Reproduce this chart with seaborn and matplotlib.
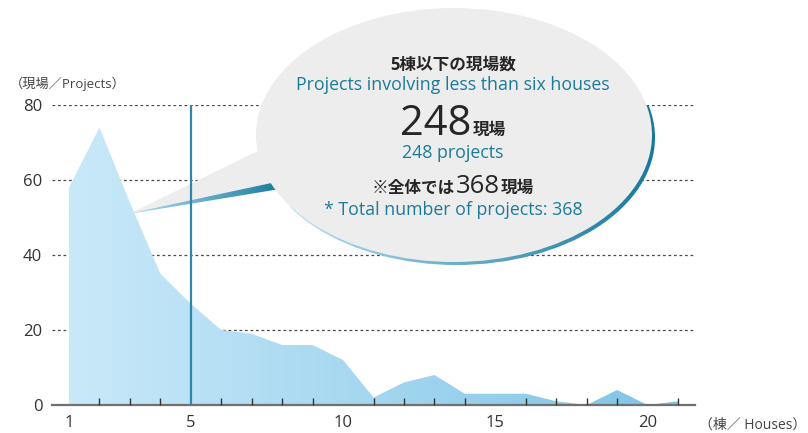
import numpy as np
import matplotlib
matplotlib.use("Agg")
import matplotlib.pyplot as plt
import seaborn as sns
from matplotlib.patches import Ellipse, Polygon
from matplotlib.colors import LinearSegmentedColormap

# ---- data ----
houses = list(range(1, 22))
projects = [58, 74, 54, 35, 27, 20, 19, 16, 16, 12, 2, 6, 8, 3, 3, 3, 1, 0, 4, 0, 1]
x_tick_values = [1, 5, 10, 15, 20]
y_tick_values = [0, 20, 40, 60, 80]
threshold_houses = 5

y_label = "（現場／Projects）"
x_label = "（棟／ Houses）"
callout_title_jp = "5棟以下の現場数"
callout_title_en = "Projects involving less than six houses"
count_value = "248"
count_unit = "現場"
count_en = "248 projects"
total_prefix = "※全体では"
total_value = "368"
total_unit = "現場"
total_en = "* Total number of projects: 368"

# ---- style ----
sns.set_theme(style="white")
plt.rcParams["font.family"] = ["Open Sans", "Noto Sans CJK JP", "DejaVu Sans"]

DARK = "#262626"
TEAL = "#1a7b9b"
GRID = "#4a4a4a"

W, H = 808, 433
fig = plt.figure(figsize=(W / 100, H / 100), dpi=100)
fig.patch.set_facecolor("white")

ax = fig.add_axes([52 / W, 28 / H, 643 / W, 300 / H])
ov = fig.add_axes([0, 0, 1, 1])
ov.set_xlim(0, W)
ov.set_ylim(H, 0)
ov.axis("off")
ov.set_zorder(-5)
PX = ov.transData  # pixel coordinates (origin top-left)

XMIN, XMAX = 1 - 17 / 30.45, 1 + 626 / 30.45

# gridlines
for yv in y_tick_values[1:]:
    ax.axhline(yv, color=GRID, lw=0.9, ls=(0, (2.2, 2.2)), zorder=0.6)

# area with gradient
sns.lineplot(x=houses, y=projects, ax=ax, color="#9fd3ee", lw=0, zorder=1)
poly = ax.fill_between(houses, projects, 0, facecolor="none", edgecolor="none", zorder=1)
area_cmap = LinearSegmentedColormap.from_list("area", ["#c9e9f9", "#7fc4e6"])
grad = np.linspace(0, 1, 256).reshape(1, -1)
im = ax.imshow(grad, extent=[houses[0], houses[-1], 0, max(projects) + 1],
               aspect="auto", cmap=area_cmap, zorder=1, origin="lower")
im.set_clip_path(poly.get_paths()[0], transform=ax.transData)

# threshold line
ax.axvline(threshold_houses, color="#2f88aa", lw=1.6, zorder=1.9)

# ---- callout ----
def grad_image(x0, x1, y0, y1, c0, c1, clip, z):
    cm = LinearSegmentedColormap.from_list("g", [c0, c1])
    g = ax.imshow(grad, extent=[x0, x1, y1, y0], aspect="auto", cmap=cm,
                  transform=PX, zorder=z, origin="upper")
    g.set_clip_box(None)
    g.set_clip_path(clip)
    return g

shadow = Ellipse((456.5, 137.5), 397, 255, transform=PX, facecolor="none", edgecolor="none")
ax.add_patch(shadow)
shadow.set_clip_on(False)
grad_image(290, 655, 0, 270, "#b0ddf2", "#17789c", shadow, 1.5)

tail_shadow = Polygon([(131, 213), (276, 181), (280, 189), (131, 213.6)], closed=True,
                      transform=PX, facecolor="none", edgecolor="none")
ax.add_patch(tail_shadow)
tail_shadow.set_clip_on(False)
grad_image(131, 280, 175, 215, "#b0ddf2", "#1a7b9e", tail_shadow, 1.55)

tail = Polygon([(131, 213), (262, 149), (320, 150), (320, 185), (276, 182)], closed=True,
               transform=PX, facecolor="#ededed", edgecolor="none", zorder=1.6)
ax.add_patch(tail)
tail.set_clip_on(False)
bubble = Ellipse((454, 135), 396, 254, transform=PX, facecolor="#ededed",
                 edgecolor="none", zorder=1.6)
ax.add_patch(bubble)
bubble.set_clip_on(False)

JPW = "bold"


def row(cx, y, parts, gap=1.0):
    """parts: list of (text, size, color, weight); laid out left to right, centred on cx."""
    objs = [ax.text(0, y, s, transform=PX, ha="left", va="baseline", fontsize=fs,
                    color=c, fontweight=wt, zorder=3) for s, fs, c, wt in parts]
    fig.canvas.draw()
    r = fig.canvas.get_renderer()
    widths = [o.get_window_extent(r).width for o in objs]
    total = sum(widths) + gap * (len(objs) - 1)
    x = cx - total / 2
    for o, w in zip(objs, widths):
        o.set_x(x)
        x += w + gap


CX = 453
EN = 12.8
row(CX, 70, [(callout_title_jp, 12, DARK, JPW)])
row(CX, 90, [(callout_title_en, EN, TEAL, "normal")])
row(CX, 135, [(count_value, 30, DARK, "normal"), (count_unit, 12, DARK, JPW)])
row(CX, 158, [(count_en, EN, TEAL, "normal")])
row(CX, 193, [(total_prefix, 12, DARK, JPW), (total_value, 18.5, DARK, "normal"),
              (total_unit, 12, DARK, JPW)])
row(CX, 215, [(total_en, EN, TEAL, "normal")])

# axis labels
ax.text(10, 84, y_label, transform=PX, ha="left", va="center", fontsize=9.5, color="#444444")
ax.text(806, 425, x_label, transform=PX, ha="right", va="center", fontsize=10, color="#444444")

# ---- axes ----
ax.set_xlim(XMIN, XMAX)
ax.set_ylim(0, 80)
ax.set_axisbelow(False)
ax.set_xticks(x_tick_values)
ax.set_xticklabels([str(v) for v in x_tick_values])
ax.set_xticks(houses[1:], minor=True)
ax.set_yticks(y_tick_values)
ax.set_yticklabels([str(v) for v in y_tick_values])
ax.tick_params(axis="x", which="major", length=0, pad=7, labelsize=12, labelcolor="#333333")
ax.tick_params(axis="x", which="minor", direction="in", length=5, width=1, color="#333333", bottom=True)
ax.tick_params(axis="y", length=0, pad=7, labelsize=12, labelcolor="#333333")
ax.set_xlabel("")
ax.set_ylabel("")
for s in ["top", "right", "left"]:
    ax.spines[s].set_visible(False)
ax.spines["bottom"].set_color("#707070")
ax.spines["bottom"].set_linewidth(1.6)
ax.set_facecolor("white")

fig.savefig("out.png", dpi=100)
